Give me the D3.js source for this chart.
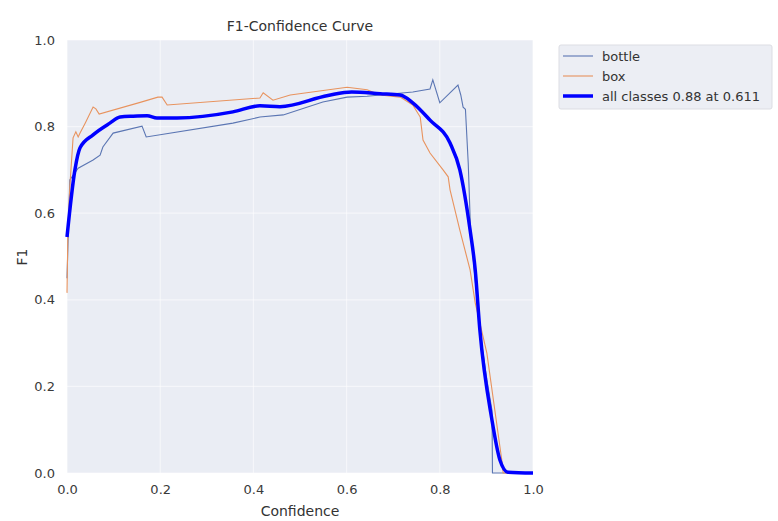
<!DOCTYPE html>
<html><head><meta charset="utf-8">
<script src="https://cdn.jsdelivr.net/npm/d3@7"></script>
<style>body{margin:0;background:#fff;}svg{display:block;font-family:"DejaVu Sans",sans-serif;}</style>
</head><body>
<svg id="c" width="778" height="521"></svg>
<script>
const title = "F1-Confidence Curve";
const xLabel = "Confidence";
const yLabel = "F1";
const xTicks = [0.0, 0.2, 0.4, 0.6, 0.8, 1.0];
const yTicks = [0.0, 0.2, 0.4, 0.6, 0.8, 1.0];
const seriesNames = ["bottle", "box", "all classes 0.88 at 0.611"];

const bottleConf = [0,0.006,0.024,0.056,0.071,0.077,0.099,0.161,0.170,0.356,0.414,0.464,0.549,0.601,0.644,0.672,0.742,0.779,0.785,0.800,0.839,0.845,0.850,0.855,0.861,0.866,0.886,0.901,0.912,0.913,1.0];
const bottleF1   = [0.45,0.677,0.704,0.723,0.734,0.753,0.785,0.801,0.776,0.808,0.822,0.827,0.857,0.868,0.870,0.873,0.880,0.887,0.908,0.855,0.896,0.873,0.845,0.84,0.716,0.560,0.330,0.215,0.145,0,0];

const boxConf = [0,0.002,0.006,0.013,0.019,0.024,0.028,0.039,0.056,0.062,0.069,0.157,0.195,0.204,0.215,0.414,0.421,0.442,0.479,0.601,0.644,0.672,0.715,0.742,0.758,0.764,0.779,0.807,0.818,0.822,0.843,0.865,0.876,0.901,0.933,0.936,1.0];
const boxF1   = [0.416,0.561,0.66,0.774,0.788,0.776,0.785,0.808,0.845,0.841,0.829,0.856,0.868,0.868,0.850,0.866,0.878,0.861,0.873,0.891,0.885,0.873,0.868,0.850,0.822,0.769,0.739,0.700,0.684,0.654,0.561,0.469,0.393,0.277,0.030,0,0];

const allConf = [0,0.017,0.028,0.056,0.092,0.114,0.142,0.172,0.193,0.236,0.356,0.414,0.457,0.560,0.611,0.672,0.715,0.742,0.779,0.822,0.843,0.865,0.876,0.886,0.912,0.929,0.946,1.0];
const allF1   = [0.545,0.70,0.751,0.781,0.808,0.822,0.824,0.825,0.820,0.820,0.834,0.848,0.846,0.872,0.880,0.876,0.873,0.855,0.815,0.762,0.700,0.561,0.469,0.330,0.122,0.030,0.002,0];

const svg = d3.select("#c");
const m = {l:67, r:533, t:40, b:473};
const x = d3.scaleLinear().domain([0,1]).range([m.l, m.r]);
const y = d3.scaleLinear().domain([0,1]).range([m.b, m.t]);

svg.append("rect").attr("x",m.l).attr("y",m.t).attr("width",m.r-m.l).attr("height",m.b-m.t).attr("fill","#eaedf4");

const g = svg.append("g");
g.selectAll(".gx").data(xTicks).join("line").attr("x1",d=>x(d)).attr("x2",d=>x(d)).attr("y1",m.t).attr("y2",m.b).attr("stroke","#ffffff").attr("stroke-width",1.2).attr("opacity",0.55);
g.selectAll(".gy").data(yTicks).join("line").attr("y1",d=>y(d)).attr("y2",d=>y(d)).attr("x1",m.l).attr("x2",m.r).attr("stroke","#ffffff").attr("stroke-width",1.2).attr("opacity",0.55);

const xAxis = d3.axisBottom(x).tickValues(xTicks).tickFormat(d3.format(".1f")).tickSize(0).tickPadding(12);
const yAxis = d3.axisLeft(y).tickValues(yTicks).tickFormat(d3.format(".1f")).tickSize(0).tickPadding(12);
const gx = svg.append("g").attr("transform",`translate(0,${m.b})`).call(xAxis);
const gy = svg.append("g").attr("transform",`translate(${m.l},0)`).call(yAxis);
[gx,gy].forEach(a=>{a.select(".domain").remove(); a.selectAll("text").attr("font-size",13).attr("fill","#3a3a3a").attr("font-family","DejaVu Sans, sans-serif");});

const line = d3.line().x(d=>x(d[0])).y(d=>y(d[1]));
const zip = (a,b)=>a.map((v,i)=>[v,b[i]]);
svg.append("path").datum(zip(bottleConf,bottleF1)).attr("d",line).attr("fill","none").attr("stroke","#5b76b3").attr("stroke-width",1.1);
svg.append("path").datum(zip(boxConf,boxF1)).attr("d",line).attr("fill","none").attr("stroke","#e8935e").attr("stroke-width",1.1);
svg.append("path").datum(zip(allConf,allF1)).attr("d",d3.line().curve(d3.curveMonotoneX).x(d=>x(d[0])).y(d=>y(d[1]))).attr("fill","none").attr("stroke","#0000ff").attr("stroke-width",3.5).attr("stroke-linejoin","round");

svg.append("text").attr("x",300).attr("y",31).attr("text-anchor","middle").attr("font-size",14).attr("fill","#333").text(title);
svg.append("text").attr("x",300).attr("y",516).attr("text-anchor","middle").attr("font-size",14).attr("fill","#333").text(xLabel);
svg.append("text").attr("transform","translate(27,257) rotate(-90)").attr("text-anchor","middle").attr("font-size",14).attr("fill","#333").text(yLabel);

// legend
const lg = svg.append("g");
lg.append("rect").attr("x",559).attr("y",45).attr("width",213).attr("height",64).attr("fill","#eceef4").attr("stroke","#dcdde3").attr("rx",2);
const colors = ["#5b76b3","#e8935e","#0000ff"];
const widths = [1.1,1.1,3.5];
seriesNames.forEach((n,i)=>{
  const yy = 56 + i*20;
  lg.append("line").attr("x1",563).attr("x2",593).attr("y1",yy).attr("y2",yy).attr("stroke",colors[i]).attr("stroke-width",widths[i]);
  lg.append("text").attr("x",602).attr("y",yy+5).attr("font-size",13).attr("fill","#333").text(n);
});
</script>
</body></html>
